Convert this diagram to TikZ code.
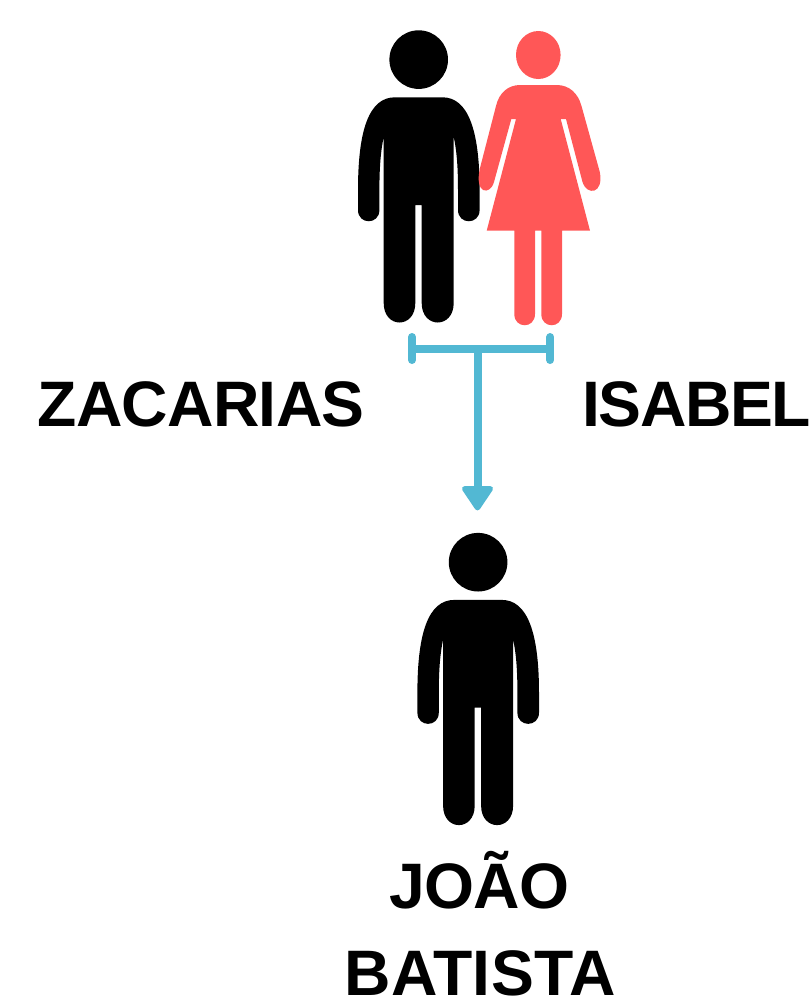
\documentclass[tikz,border=0pt]{standalone}
\usepackage{fontspec}
\setmainfont{Liberation Sans}
\definecolor{coral}{HTML}{FF5757}
\definecolor{teal}{HTML}{52B8D3}
\tikzset{
  lbl/.style={font=\fontsize{48.2}{58}\selectfont\bfseries,text=black,inner sep=0pt,anchor=base},
  link/.style={draw=teal,line width=6pt,line cap=round},
  man/.pic={
    \fill[black] (418.7,59.6) circle[radius=29.3];
    \fill[black] (395,97.3) -- (442.4,97.3)
      .. controls (468,97.3) and (479.6,130) .. (479.6,190)
      -- (479.6,210) .. controls (479.6,225) and (458,225) .. (458,210)
      -- (458,190) .. controls (458,165) and (456.5,150) .. (453.7,136.7)
      -- (453.7,303) .. controls (453.7,329) and (421.7,329) .. (421.7,303)
      -- (421.7,205) -- (415.3,205) -- (415.3,303)
      .. controls (415.3,329) and (383.7,329) .. (383.7,303)
      -- (383.7,136.7) .. controls (381,150) and (379.4,165) .. (379.4,190)
      -- (379.4,210) .. controls (379.4,225) and (358,225) .. (358,210)
      -- (358,190) .. controls (358,130) and (369,97.3) .. (395,97.3) -- cycle;
  }
}
\begin{document}
\begin{tikzpicture}[x=0.75pt,y=-0.75pt]
\useasboundingbox (0,0) rectangle (810,1008);
\pic at (0,0) {man};
% woman
\fill[coral] (538.3,55) ellipse[x radius=22.3,y radius=24];
\fill[coral] (520,85) -- (556.7,85)
  .. controls (569,85) and (578,93) .. (581.5,106)
  -- (599.8,172) .. controls (604,194) and (587,196) .. (582.5,182)
  -- (566,119) -- (560.7,119) -- (590,230.7) -- (562,230.7)
  -- (562,314) .. controls (562,329) and (541.3,329) .. (541.3,314)
  -- (541.3,230.7) -- (535,230.7) -- (535,314)
  .. controls (535,329) and (514.3,329) .. (514.3,314)
  -- (514.3,230.7) -- (486.7,230.7) -- (516,119) -- (511.3,119)
  -- (494,182) .. controls (490,196) and (474,194) .. (480,168)
  -- (496,106) .. controls (499,93) and (508,85) .. (520,85) -- cycle;
% connector
\coordinate (tickLtop) at (412,337);
\coordinate (tickLbot) at (412,360);
\coordinate (tickRtop) at (550.3,337);
\coordinate (tickRbot) at (550.3,360);
\coordinate (barL) at (412,348.7);
\coordinate (barR) at (550.3,348.7);
\coordinate (junction) at (477.5,348.7);
\coordinate (stemEnd) at (477.5,490);
\draw[link] (tickLtop) -- (tickLbot);
\draw[link] (tickRtop) -- (tickRbot);
\draw[link,line cap=butt] (barL) -- (barR);
\draw[link,line cap=butt] (junction) -- (stemEnd);
\fill[teal,draw=teal,line width=4pt,line join=round] (464.6,488.7) -- (490.4,488.7) -- (477.5,507.8) -- cycle;
% son
\pic at (59.4,502.6) {man};
% labels
\node[lbl,font=\fontsize{48.2}{58}\selectfont\bfseries\addfontfeature{LetterSpace=-1.1}] (zacarias) at (201,426) {ZACARIAS};
\node[lbl,anchor=base west,font=\fontsize{48.2}{58}\selectfont\bfseries\addfontfeature{LetterSpace=-2.1}] (isabel) at (582,426) {ISABEL};
\node[lbl,font=\fontsize{48.2}{58}\selectfont\bfseries\addfontfeature{LetterSpace=-1.2}] (joao) at (479.5,908) {JOÃO};
\node[lbl,font=\fontsize{48.2}{58}\selectfont\bfseries\addfontfeature{LetterSpace=0.7}] (batista) at (480,995) {BATISTA};
\end{tikzpicture}
\end{document}
